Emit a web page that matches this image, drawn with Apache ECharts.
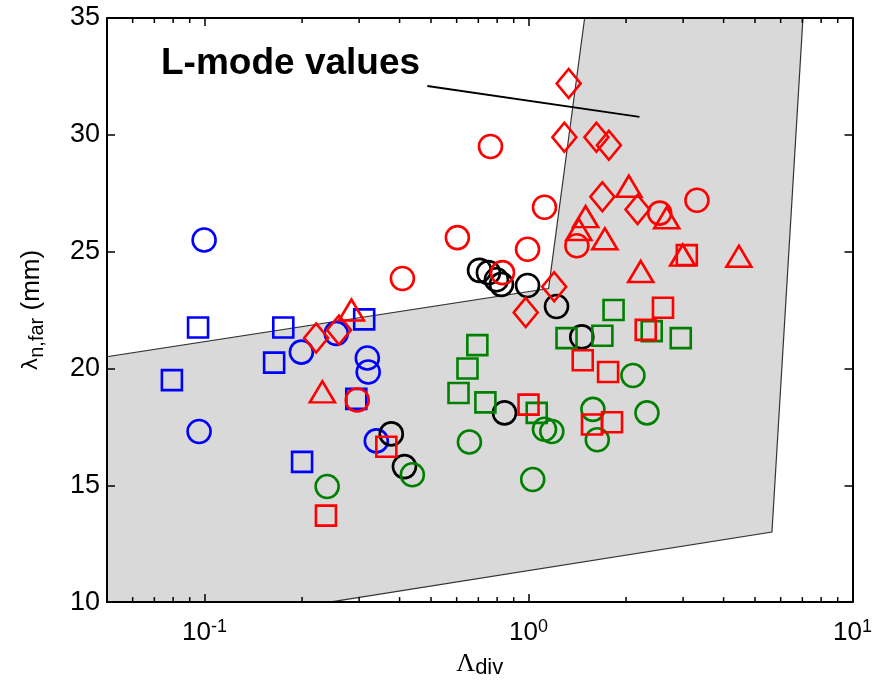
<!DOCTYPE html>
<html>
<head>
<meta charset="utf-8">
<script src="https://cdn.jsdelivr.net/npm/echarts@6/dist/echarts.min.js"></script>
<style>
html, body { margin: 0; padding: 0; background: #fff; }
#chart { width: 875px; height: 684px; }
</style>
</head>
<body>
<div id="chart"></div>
<script>
// marker groups: [Lambda_div, lambda_n,far (mm)]
var blueCircles = [[0.0997, 25.5], [0.0962, 17.3], [0.199, 20.7], [0.255, 21.5], [0.318, 20.45], [0.32, 19.85], [0.339, 16.9]];
var blueSquares = [[0.0955, 21.75], [0.0793, 19.5], [0.175, 21.75], [0.164, 20.25], [0.311, 22.1], [0.2, 16.0], [0.294, 18.7]];
var redCircles = [[0.296, 18.65], [0.408, 23.85], [0.603, 25.6], [0.763, 29.5], [0.993, 25.1], [1.12, 26.9], [1.41, 25.25], [2.54, 26.65], [3.31, 27.2], [0.831, 24.1]];
var redDiamonds = [[1.33, 32.2], [1.29, 29.9], [1.62, 29.9], [1.77, 29.55], [1.69, 27.35], [2.17, 26.8], [1.2, 23.5], [0.98, 22.4], [0.221, 21.3], [0.26, 21.65]];
var redTriangles = [[0.284, 22.5], [0.231, 19.0], [2.04, 27.8], [1.5, 26.5], [1.72, 25.55], [2.67, 26.45], [1.43, 25.95], [2.22, 24.15], [2.99, 24.85], [4.46, 24.8]];
var redSquares = [[3.08, 24.85], [2.6, 22.6], [2.3, 21.65], [1.47, 20.35], [1.76, 19.85], [1.0, 18.45], [1.57, 17.6], [1.81, 17.7], [0.364, 16.65], [0.237, 13.7]];
var blackCircles = [[0.706, 24.2], [0.752, 24.1], [0.796, 23.8], [0.825, 23.6], [0.993, 23.55], [1.22, 22.65], [1.46, 21.35], [0.843, 18.1], [0.377, 17.2], [0.414, 15.8]];
var greenCircles = [[0.239, 14.95], [0.438, 15.45], [0.657, 16.85], [1.03, 15.25], [1.12, 17.4], [1.18, 17.3], [1.58, 18.25], [1.63, 16.95], [2.1, 19.7], [2.32, 18.1]];
var greenSquares = [[0.695, 21.0], [0.648, 20.0], [0.608, 18.95], [0.736, 18.55], [1.06, 18.1], [1.31, 21.3], [1.69, 21.4], [1.83, 22.5], [2.4, 21.6], [2.95, 21.3]];

// shaded L-mode region (polygon corners)
var regionX = [0.05, 0.243, 5.64, 7.03, 1.49, 1.153, 0.05];
var regionY = [10, 10, 13.0, 35, 35, 23.42, 20.5];

// annotation
var noteText = 'L-mode values';
var noteAt = [0.0734, 33.03];
var pointerX = [0.487, 2.2];
var pointerY = [32.09, 30.77];

// axes
var xMin = 0.05, xMax = 10;
var yMin = 10, yMax = 35, yStep = 5;
var xMinorTicks = [0.06, 0.07, 0.08, 0.09, 0.2, 0.3, 0.4, 0.5, 0.6, 0.7, 0.8, 0.9, 2, 3, 4, 5, 6, 7, 8, 9];

var chart = echarts.init(document.getElementById('chart'));

function markers(name, data, symbol, size, color) {
	return {
		name: name,
		type: 'scatter',
		data: data,
		symbol: symbol,
		symbolSize: size,
		z: 4,
		silent: true,
		itemStyle: {
			color: 'rgba(0,0,0,0)',
			borderColor: color,
			borderWidth: 2.6,
			opacity: 1
		}
	};
}

function powerLabel(value) {
	var e = Math.round(Math.log(value) / Math.LN10);
	if (Math.abs(value - Math.pow(10, e)) > 1e-6 * value) {
		return '';
	}
	return '{b|10}{s|' + e + '}';
}

var frameLine = { show: true, lineStyle: { color: '#000', width: 2 } };
var tickStyle = { color: '#000', width: 1.5 };

var option = {
	animation: false,
	backgroundColor: '#fff',
	grid: { left: 107, right: 22, top: 18, bottom: 81 },
	xAxis: [{
		type: 'log',
		logBase: 10,
		min: xMin,
		max: xMax,
		z: 10,
		axisLine: frameLine,
		axisTick: { show: true, inside: true, length: 8, lineStyle: tickStyle },
		splitLine: { show: false },
		axisLabel: {
			margin: 16,
			formatter: powerLabel,
			rich: {
				b: { fontFamily: 'Liberation Sans', fontSize: 26, lineHeight: 30, color: '#000' },
				s: { fontFamily: 'Liberation Sans', fontSize: 18, lineHeight: 6, verticalAlign: 'top', color: '#000' }
			}
		},
		name: '{L|\u039b}{d|div}',
		nameLocation: 'middle',
		nameGap: 40,
		nameTextStyle: {
			rich: {
				L: { fontFamily: 'Liberation Serif', fontSize: 26, lineHeight: 30, color: '#000' },
				d: { fontFamily: 'Liberation Sans', fontSize: 22, lineHeight: 4, verticalAlign: 'bottom', color: '#000' }
			}
		}
	}, {
		type: 'log',
		logBase: 10,
		position: 'top',
		min: xMin,
		max: xMax,
		z: 10,
		axisLine: frameLine,
		axisTick: { show: true, inside: true, length: 8, lineStyle: tickStyle },
		axisLabel: { show: false },
		splitLine: { show: false }
	}],
	yAxis: [{
		type: 'value',
		min: yMin,
		max: yMax,
		interval: yStep,
		z: 10,
		axisLine: frameLine,
		axisTick: { show: true, inside: true, length: 8, lineStyle: tickStyle },
		splitLine: { show: false },
		axisLabel: { margin: 7, fontFamily: 'Liberation Sans', fontSize: 27, color: '#000' },
		name: '{l|\u03bb}{s|n,far}{m| (mm)}',
		nameLocation: 'middle',
		nameRotate: 90,
		nameGap: 60,
		nameTextStyle: {
			rich: {
				l: { fontFamily: 'DejaVu Sans', fontSize: 21, lineHeight: 30, color: '#000' },
				s: { fontFamily: 'Liberation Sans', fontSize: 20, lineHeight: 14, verticalAlign: 'bottom', color: '#000' },
				m: { fontFamily: 'Liberation Sans', fontSize: 26, lineHeight: 30, color: '#000' }
			}
		}
	}, {
		type: 'value',
		position: 'right',
		min: yMin,
		max: yMax,
		interval: yStep,
		z: 10,
		axisLine: frameLine,
		axisTick: { show: true, inside: true, length: 8, lineStyle: tickStyle },
		axisLabel: { show: false },
		splitLine: { show: false }
	}],
	series: [{
		type: 'custom',
		z: 1,
		silent: true,
		data: regionX.map(function (x, i) { return [x, regionY[i]]; }),
		renderItem: function (params, api) {
			if (params.dataIndex !== 0) {
				return null;
			}
			var pts = regionX.map(function (x, i) { return api.coord([x, regionY[i]]); });
			return {
				type: 'polygon',
				shape: { points: pts },
				style: { fill: '#d9d9d9', stroke: '#333', lineWidth: 1.2 }
			};
		}
	}, {
		// minor log ticks, bottom and top
		type: 'custom',
		z: 11,
		silent: true,
		data: xMinorTicks.map(function (v) { return [v, yMin]; }),
		renderItem: function (params, api) {
			var v = api.value(0);
			var b = api.coord([v, yMin]);
			var t = api.coord([v, yMax]);
			return {
				type: 'group',
				children: [
					{ type: 'line', shape: { x1: b[0], y1: b[1], x2: b[0], y2: b[1] - 5 }, style: { stroke: '#000', lineWidth: 1.5 } },
					{ type: 'line', shape: { x1: t[0], y1: t[1], x2: t[0], y2: t[1] + 5 }, style: { stroke: '#000', lineWidth: 1.5 } }
				]
			};
		}
	}, {
		type: 'line',
		z: 5,
		silent: true,
		symbol: 'none',
		data: pointerX.map(function (x, i) { return [x, pointerY[i]]; }),
		lineStyle: { color: '#000', width: 1.8, opacity: 1 }
	}, {
		type: 'scatter',
		z: 5,
		silent: true,
		symbolSize: 0,
		data: [noteAt],
		itemStyle: { opacity: 1 },
		label: {
			show: true,
			position: 'right',
			distance: 0,
			formatter: noteText,
			fontFamily: 'Liberation Sans',
			fontWeight: 'bold',
			fontSize: 37,
			color: '#000',
			opacity: 1
		}
	},
	markers('blue o', blueCircles, 'circle', 23, '#0000ff'),
	markers('blue s', blueSquares, 'rect', 20, '#0000ff'),
	markers('black o', blackCircles, 'circle', 23, '#000000'),
	markers('green o', greenCircles, 'circle', 23, '#008000'),
	markers('green s', greenSquares, 'rect', 20, '#008000'),
	markers('red o', redCircles, 'circle', 23, '#ff0000'),
	markers('red d', redDiamonds, 'diamond', [24, 29], '#ff0000'),
	markers('red t', redTriangles, 'triangle', [25, 21], '#ff0000'),
	markers('red s', redSquares, 'rect', 20, '#ff0000')
	]
};

chart.setOption(option);
</script>
</body>
</html>
